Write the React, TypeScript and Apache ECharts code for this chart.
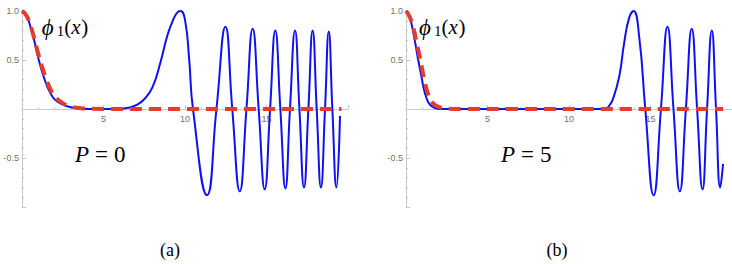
import React, { useEffect, useRef } from "react";
import * as echarts from "echarts";

// Panel (a), P = 0
const blueAX = [0, 0.25, 0.5, 0.75, 1.0, 1.25, 1.5, 1.75, 2.0, 2.5, 3.0, 3.5, 4.0, 5.0, 6.0, 6.5, 7.0, 7.5, 8.0, 8.5, 8.9, 9.2, 9.5, 9.72, 10.0, 10.25, 10.49, 11.35, 11.93, 12.48, 12.9, 13.36, 13.77, 14.15, 14.52, 14.89, 15.22, 15.54, 15.85, 16.16, 16.44, 16.75, 17.02, 17.3, 17.57, 17.83, 18.08, 18.34, 18.59, 18.82, 19.04, 19.29, 19.51];
const blueAY = [1, 0.96, 0.85, 0.7, 0.52, 0.37, 0.25, 0.16, 0.1, 0.045, 0.018, 0.006, 0.001, 0, 0.002, 0.012, 0.04, 0.1, 0.22, 0.48, 0.74, 0.88, 0.98, 1.0, 0.91, 0.52, 0, -0.88, 0, 0.84, 0, -0.84, 0, 0.82, 0, -0.82, 0, 0.8, 0, -0.81, 0, 0.8, 0, -0.8, 0, 0.8, 0, -0.8, 0, 0.79, 0, -0.8, -0.07];
const redAX = [0, 0.25, 0.5, 0.75, 1.0, 1.25, 1.5, 1.75, 2.0, 2.5, 3.0, 3.5, 4.0, 5.0, 19.6];
const redAY = [1, 0.96, 0.86, 0.72, 0.56, 0.42, 0.3, 0.2, 0.13, 0.06, 0.025, 0.01, 0.003, 0, 0];

// Panel (b), P = 5
const blueBX = [0, 0.2, 0.35, 0.55, 0.75, 0.96, 1.1, 1.26, 1.4, 1.57, 1.88, 2.2, 12.2, 12.45, 12.67, 13.08, 13.38, 13.69, 13.96, 14.31, 14.68, 15.19, 15.64, 16.04, 16.41, 16.8, 17.17, 17.53, 17.86, 18.19, 18.47, 18.76, 19.02, 19.28, 19.45];
const blueBY = [1, 0.95, 0.86, 0.69, 0.5, 0.32, 0.2, 0.11, 0.06, 0.03, 0.005, 0, 0, 0.03, 0.09, 0.33, 0.67, 0.93, 1.0, 0.73, 0, -0.88, 0, 0.84, 0, -0.84, 0, 0.82, 0, -0.82, 0, 0.8, 0, -0.8, -0.56];
const redBX = [0, 0.2, 0.45, 0.65, 0.86, 1.0, 1.16, 1.3, 1.47, 1.65, 1.88, 2.2, 2.6, 3.0, 19.45];
const redBY = [1, 0.95, 0.83, 0.68, 0.52, 0.4, 0.27, 0.18, 0.11, 0.06, 0.03, 0.01, 0.003, 0, 0];

const xTickLabels = [5, 10, 15];
const yTickLabels = [1.0, 0.5, -0.5];
const panelTags = ["(a)", "(b)"];
const pValues = ["0", "5"];

const zip = (xs: number[], ys: number[]) => xs.map((x, i) => [x, ys[i]]);

const BLUE = "#1010f0";
const RED = "#e63b2e";
const AXIS = "#c8c8c8";
const LABEL = "#707070";
const SERIF = "'Liberation Serif', 'DejaVu Serif', serif";

const glyph = (x: number, y: number, text: string, font: string) => ({
  type: "text",
  x,
  y,
  style: { text, font, fill: "#000", align: "left", verticalAlign: "middle" },
});

export default function App() {
  const ref = useRef<HTMLDivElement>(null);
  useEffect(() => {
    if (!ref.current) return;
    const chart = echarts.init(ref.current, undefined, { renderer: "svg" });
    const grids = [
      { left: 22, top: 11, width: 326, height: 196 },
      { left: 406, top: 11, width: 327, height: 196 },
    ];
    const xAxis = grids.map((_, i) => ({
      type: "value",
      gridIndex: i,
      min: 0,
      max: 20,
      interval: 5,
      axisLine: { onZero: true, lineStyle: { color: AXIS, width: 1 } },
      axisTick: { show: true, inside: true, length: 4, lineStyle: { color: AXIS } },
      minorTick: { show: true, splitNumber: 5, length: 2, lineStyle: { color: AXIS } },
      splitLine: { show: false },
      axisLabel: { show: false },
    }));
    const yAxis = grids.map((_, i) => ({
      type: "value",
      gridIndex: i,
      min: -1,
      max: 1,
      interval: 0.5,
      axisLine: { onZero: true, lineStyle: { color: AXIS, width: 1 } },
      axisTick: { show: true, inside: true, length: 4, lineStyle: { color: AXIS } },
      minorTick: { show: true, splitNumber: 5, length: 2, lineStyle: { color: AXIS } },
      splitLine: { show: false },
      axisLabel: {
        margin: 3,
        color: LABEL,
        fontSize: 9,
        fontFamily: "Liberation Sans",
        formatter: (v: number) =>
          yTickLabels.some((t) => Math.abs(t - v) < 1e-9) ? v.toFixed(1) : "",
      },
    }));
    const lineSeries = (data: number[][], idx: number, dashed: boolean) => ({
      type: "line",
      xAxisIndex: idx,
      yAxisIndex: idx,
      data,
      smooth: true,
      showSymbol: false,
      symbol: "none",
      lineStyle: dashed
        ? { color: RED, width: 4, type: [12, 7], cap: "butt" }
        : { color: BLUE, width: 2 },
      z: dashed ? 3 : 2,
    });
    const mathText = (x: number) => [
      glyph(x, 27, "ϕ", `italic 23px ${SERIF}`),
      glyph(x + 15, 30.5, "1", `15px ${SERIF}`),
      glyph(x + 22.5, 27, "(", `21px ${SERIF}`),
      glyph(x + 29.5, 27, "x", `italic 21px ${SERIF}`),
      glyph(x + 39.5, 27, ")", `21px ${SERIF}`),
    ];
    const pText = (x: number, val: string) => [
      glyph(x, 154, "P", `italic 23px ${SERIF}`),
      glyph(x + 20, 154, "=", `23px ${SERIF}`),
      glyph(x + 39, 154, val, `23px ${SERIF}`),
    ];
    const tagText = (x: number, y: number, t: string) => ({
      type: "text",
      x,
      y,
      style: {
        text: t,
        align: "center",
        verticalAlign: "middle",
        font: `18px ${SERIF}`,
        fill: "#000",
      },
    });
    chart.setOption({
      animation: false,
      backgroundColor: "#ffffff",
      grid: grids,
      xAxis,
      yAxis,
      series: [
        lineSeries(zip(blueAX, blueAY), 0, false),
        lineSeries(zip(redAX, redAY), 0, true),
        lineSeries(zip(blueBX, blueBY), 1, false),
        lineSeries(zip(redBX, redBY), 1, true),
      ],
    });
    // x tick labels placed through the axes' own scales
    const xLabels: any[] = [];
    grids.forEach((_, gi) => {
      xTickLabels.forEach((v) => {
        const p = chart.convertToPixel({ gridIndex: gi }, [v, 0]) as number[];
        xLabels.push({
          type: "text",
          x: p[0],
          y: p[1] + 10,
          style: {
            text: String(v),
            align: "center",
            verticalAlign: "middle",
            font: "9px 'Liberation Sans', sans-serif",
            fill: LABEL,
          },
        });
      });
    });
    chart.setOption({
      graphic: [
        ...mathText(41.7),
        ...mathText(419),
        ...pText(75, pValues[0]),
        ...pText(501, pValues[1]),
        tagText(170, 250, panelTags[0]),
        tagText(557, 250, panelTags[1]),
        ...xLabels,
      ],
    });
    return () => chart.dispose();
  }, []);
  return (
    <div
      ref={ref}
      style={{ position: "fixed", left: 0, top: 0, width: 732, height: 264 }}
    />
  );
}
